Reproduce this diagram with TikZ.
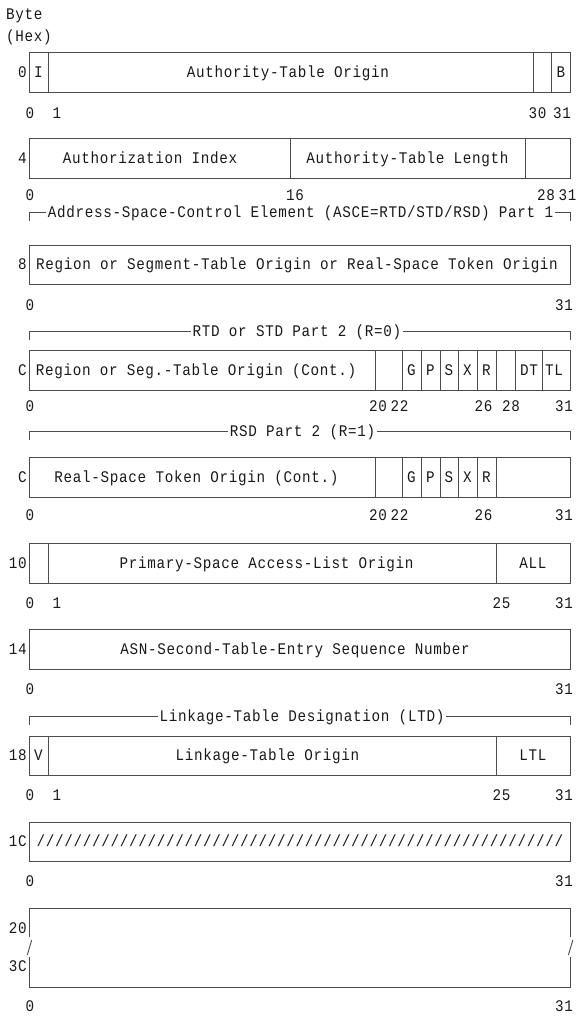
\documentclass[tikz,border=0pt]{standalone}
\usepackage{fontspec}
\setmonofont[FakeStretch=0.88, LetterSpace=4.3]{Liberation Mono}
\begin{document}
\begin{tikzpicture}[x=1pt,y=-1pt,
  lbl/.style={font=\ttfamily\fontsize{16.2}{19}\selectfont, inner sep=0pt, text height=10.5pt, text depth=0pt, text=black!90},
  byte/.style={lbl, anchor=east},
  fld/.style={draw=black!70, line width=0.9pt},
  brk/.style={draw=black!70, line width=0.9pt},
]
\useasboundingbox (0,0) rectangle (577,1017);

% header
\node[lbl, anchor=west] (hbyte) at (6,14.5) {Byte};
\node[lbl, anchor=west] (hhex) at (6,36) {(Hex)};

% ---------- byte 0
\draw[fld] (29,52) rectangle (570,92);
\foreach \x in {48.3,533.3,551.7} \draw[fld] (\x,52) -- (\x,92);
\node[byte] (b0) at (27,72) {0};
\node[lbl] (f0a) at (38.5,72) {I};
\node[lbl] (f0b) at (288,72) {Authority-Table Origin};
\node[lbl] (f0c) at (561,72) {B};
\node[lbl] (n0a) at (30,113) {0};
\node[lbl] (n0b) at (57,113) {1};
\node[lbl] (n0c) at (537.5,113) {30};
\node[lbl] (n0d) at (562,113) {31};

% ---------- byte 4
\draw[fld] (29,138) rectangle (570,178);
\foreach \x in {290,525} \draw[fld] (\x,138) -- (\x,178);
\node[byte] (b4) at (27,158) {4};
\node[lbl] (f4a) at (150,158) {Authorization Index};
\node[lbl] (f4b) at (407.5,158) {Authority-Table Length};
\node[lbl] (n4a) at (30,195) {0};
\node[lbl] (n4b) at (295,195) {16};
\node[lbl] (n4c) at (546,195) {28};
\node[lbl] (n4d) at (567.5,195) {31};

% ---------- ASCE bracket
\node[lbl, inner xsep=1.5pt] (asce) at (300.5,212.5) {Address-Space-Control Element (ASCE=RTD/STD/RSD) Part 1};
\coordinate (asceL) at (29,220.5);
\coordinate (asceR) at (570,220.5);
\draw[brk] (asceL) |- (asce.west);
\draw[brk] (asce.east) -| (asceR);

% ---------- byte 8
\draw[fld] (29,245) rectangle (570,284);
\node[byte] (b8) at (27,264.5) {8};
\node[lbl] (f8a) at (297,264.5) {Region or Segment-Table Origin or Real-Space Token Origin};
\node[lbl] (n8a) at (30,305) {0};
\node[lbl] (n8b) at (564,305) {31};

% ---------- RTD/STD bracket
\node[lbl, inner xsep=1.5pt] (rtd) at (297,331.5) {RTD or STD Part 2 (R=0)};
\coordinate (rtdL) at (29,339.5);
\coordinate (rtdR) at (570,339.5);
\draw[brk] (rtdL) |- (rtd.west);
\draw[brk] (rtd.east) -| (rtdR);

% ---------- byte C (RTD/STD)
\draw[fld] (29,350) rectangle (570,390);
\foreach \x in {375,402.7,421,440,458.3,477.3,496,515,542.3} \draw[fld] (\x,350) -- (\x,390);
\node[byte] (bC1) at (27,370) {C};
\node[lbl] (fC1a) at (196,370) {Region or Seg.-Table Origin (Cont.)};
\node[lbl] (fC1g) at (411.5,370) {G};
\node[lbl] (fC1p) at (430.5,370) {P};
\node[lbl] (fC1s) at (449,370) {S};
\node[lbl] (fC1x) at (467.5,370) {X};
\node[lbl] (fC1r) at (486.5,370) {R};
\node[lbl] (fC1dt) at (529,370) {DT};
\node[lbl] (fC1tl) at (554,370) {TL};
\node[lbl] (nC1a) at (30,406.5) {0};
\node[lbl] (nC1b) at (378,406.5) {20};
\node[lbl] (nC1c) at (399.5,406.5) {22};
\node[lbl] (nC1d) at (483.5,406.5) {26};
\node[lbl] (nC1e) at (511,406.5) {28};
\node[lbl] (nC1f) at (564,406.5) {31};

% ---------- RSD bracket
\node[lbl, inner xsep=1.5pt] (rsd) at (302.5,431.5) {RSD Part 2 (R=1)};
\coordinate (rsdL) at (29,439.5);
\coordinate (rsdR) at (570,439.5);
\draw[brk] (rsdL) |- (rsd.west);
\draw[brk] (rsd.east) -| (rsdR);

% ---------- byte C (RSD)
\draw[fld] (29,457) rectangle (570,497);
\foreach \x in {375,402.7,421,440,458.3,477.3,496} \draw[fld] (\x,457) -- (\x,497);
\node[byte] (bC2) at (27,477) {C};
\node[lbl] (fC2a) at (196.5,477) {Real-Space Token Origin (Cont.)};
\node[lbl] (fC2g) at (411.5,477) {G};
\node[lbl] (fC2p) at (430.5,477) {P};
\node[lbl] (fC2s) at (449,477) {S};
\node[lbl] (fC2x) at (467.5,477) {X};
\node[lbl] (fC2r) at (486.5,477) {R};
\node[lbl] (nC2a) at (30,515) {0};
\node[lbl] (nC2b) at (378,515) {20};
\node[lbl] (nC2c) at (399.5,515) {22};
\node[lbl] (nC2d) at (483.5,515) {26};
\node[lbl] (nC2f) at (564,515) {31};

% ---------- byte 10
\draw[fld] (29,543) rectangle (570,583);
\foreach \x in {48.3,496} \draw[fld] (\x,543) -- (\x,583);
\node[byte] (b10) at (27,563) {10};
\node[lbl] (f10a) at (266.5,563) {Primary-Space Access-List Origin};
\node[lbl] (f10b) at (533,563) {ALL};
\node[lbl] (n10a) at (30,603) {0};
\node[lbl] (n10b) at (57,603) {1};
\node[lbl] (n10c) at (501.5,603) {25};
\node[lbl] (n10d) at (564,603) {31};

% ---------- byte 14
\draw[fld] (29,629) rectangle (570,669);
\node[byte] (b14) at (27,649) {14};
\node[lbl] (f14a) at (295,649) {ASN-Second-Table-Entry Sequence Number};
\node[lbl] (n14a) at (30,689) {0};
\node[lbl] (n14b) at (564,689) {31};

% ---------- LTD bracket
\node[lbl, inner xsep=1.5pt] (ltd) at (302,716.5) {Linkage-Table Designation (LTD)};
\coordinate (ltdL) at (29,724.5);
\coordinate (ltdR) at (570,724.5);
\draw[brk] (ltdL) |- (ltd.west);
\draw[brk] (ltd.east) -| (ltdR);

% ---------- byte 18
\draw[fld] (29,736) rectangle (570,775);
\foreach \x in {48.3,496} \draw[fld] (\x,736) -- (\x,775);
\node[byte] (b18) at (27,755.5) {18};
\node[lbl] (f18a) at (38.5,755.5) {V};
\node[lbl] (f18b) at (267.5,755.5) {Linkage-Table Origin};
\node[lbl] (f18c) at (533,755.5) {LTL};
\node[lbl] (n18a) at (30,795) {0};
\node[lbl] (n18b) at (57,795) {1};
\node[lbl] (n18c) at (501.5,795) {25};
\node[lbl] (n18d) at (564,795) {31};

% ---------- byte 1C
\draw[fld] (29,822) rectangle (570,861);
\node[byte] (b1C) at (27,841.5) {1C};
\node[lbl] (f1Ca) at (300,841.5) {/////////////////////////////////////////////////////////};
\node[lbl] (n1Ca) at (30,881.5) {0};
\node[lbl] (n1Cb) at (564,881.5) {31};

% ---------- bytes 20 to 3C
\draw[fld] (29,937) -- (29,908) -- (570,908) -- (570,937);
\draw[fld] (29,957) -- (29,987) -- (570,987) -- (570,957);
\draw[fld] (31.7,940) -- (27.3,955);
\draw[fld] (572.8,940) -- (568.4,955);
\node[byte] (b20) at (27,928) {20};
\node[byte] (b3C) at (27,966.5) {3C};
\node[lbl] (n20a) at (30,1006.5) {0};
\node[lbl] (n20b) at (564,1006.5) {31};
\end{tikzpicture}
\end{document}
